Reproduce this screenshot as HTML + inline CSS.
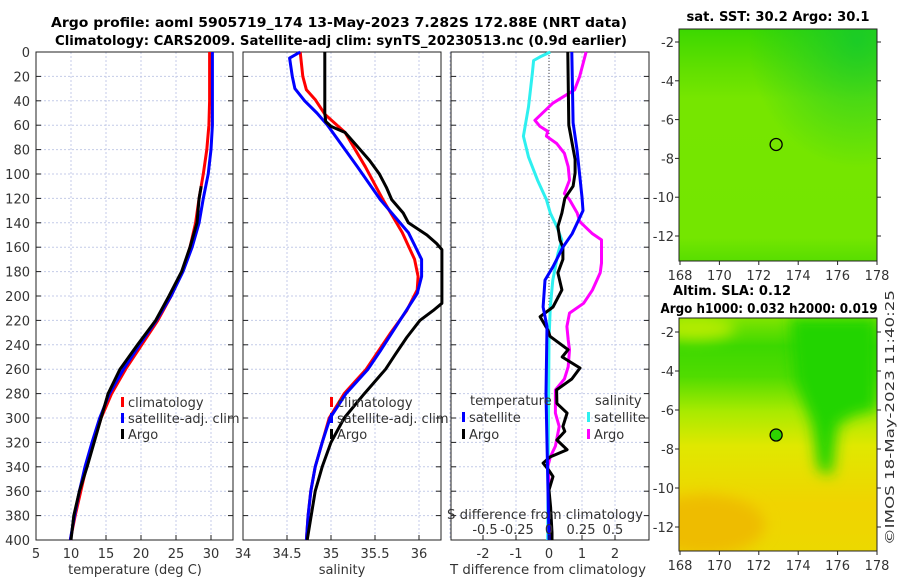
<!DOCTYPE html>
<html><head><meta charset="utf-8"><style>
body{margin:0;background:#fff;width:900px;height:580px;overflow:hidden}
svg{font-family:"DejaVu Sans","Liberation Sans",sans-serif}
</style></head><body>
<svg id="c" width="900" height="580" xmlns="http://www.w3.org/2000/svg">
<defs>
<linearGradient id="g1" x1="0" y1="0" x2="0" y2="1">
<stop offset="0" stop-color="#3cd800"/><stop offset="0.18" stop-color="#62e000"/><stop offset="0.3" stop-color="#76e600"/><stop offset="0.9" stop-color="#74e600"/><stop offset="1" stop-color="#58de00"/></linearGradient>
<radialGradient id="g1b" cx="0.9" cy="0.05" r="0.55"><stop offset="0" stop-color="#10c830" stop-opacity="0.8"/><stop offset="1" stop-color="#10c830" stop-opacity="0"/></radialGradient>
<linearGradient id="g2" x1="0" y1="0" x2="0" y2="1">
<stop offset="0" stop-color="#80e400"/><stop offset="0.12" stop-color="#3cd800"/><stop offset="0.25" stop-color="#50dc00"/><stop offset="0.4" stop-color="#a8ea00"/><stop offset="0.55" stop-color="#e0e800"/><stop offset="0.8" stop-color="#f0d400"/><stop offset="1" stop-color="#ecd800"/></linearGradient>
<filter id="bl"><feGaussianBlur stdDeviation="7"/></filter>
<clipPath id="cp2"><rect x="679" y="318" width="198" height="233"/></clipPath>
</defs>
<g id="titles" font-weight="bold" font-size="13" text-anchor="middle">
<text x="339" y="27" textLength="576" lengthAdjust="spacingAndGlyphs">Argo profile: aoml 5905719_174 13-May-2023 7.282S 172.88E (NRT data)</text>
<text x="341" y="45" textLength="572" lengthAdjust="spacingAndGlyphs">Climatology: CARS2009. Satellite-adj clim: synTS_20230513.nc (0.9d earlier)</text>
<text x="778" y="21" textLength="183" lengthAdjust="spacingAndGlyphs">sat. SST: 30.2 Argo: 30.1</text>
<text x="732" y="295" textLength="118" lengthAdjust="spacingAndGlyphs">Altim. SLA: 0.12</text>
<text x="769" y="313" textLength="217" lengthAdjust="spacingAndGlyphs">Argo h1000: 0.032 h2000: 0.019</text>
</g>
<text x="894" y="545" font-size="12" fill="#333" textLength="255" lengthAdjust="spacingAndGlyphs" transform="rotate(-90 894 545)">©IMOS 18-May-2023 11:40:25</text>
<g id="maps">
<rect x="679" y="29" width="198" height="232" fill="url(#g1)"/>
<rect x="679" y="29" width="198" height="232" fill="url(#g1b)"/>
<rect x="679" y="318" width="198" height="233" fill="url(#g2)"/>
<g clip-path="url(#cp2)" filter="url(#bl)">
<path d="M790 318 L877 318 L877 410 L855 415 L838 425 L832 475 L818 470 L812 425 L795 380 Z" fill="#22d400"/>
<ellipse cx="705" cy="525" rx="60" ry="30" fill="#eebc00"/>
<ellipse cx="695" cy="328" rx="40" ry="12" fill="#b4ec00"/>
</g>
</g>
<g id="plots"></g>
</svg>
<script>
// ---- data ----
const tDepth=[0,20,40,60,80,100,120,140,160,180,200,220,240,260,280,300,320,340,360,380,400];
const tClim=[29.8,29.8,29.8,29.7,29.4,28.9,28.3,27.8,27.0,25.9,24.3,22.4,20.1,17.8,15.8,14.3,13.2,12.2,11.4,10.6,9.9];
const tSat=[30.2,30.2,30.2,30.2,30.0,29.6,28.9,28.3,27.3,26.0,24.3,22.2,19.8,17.5,15.5,14.1,13.0,12.0,11.2,10.5,9.9];
const tArgoDepth=[110,120,140,160,180,200,220,240,260,280,300,320,340,360,380,400];
const tArgo=[28.6,28.3,28.0,27.0,25.8,24.0,22.1,19.5,17.0,15.3,14.3,13.3,12.3,11.2,10.4,10.0];
const sClimDepth=[0,20,31,39,51,66,94,121,148,170,184,195,212,231,245,260,280,300,320,340,360,380,400];
const sClim=[34.65,34.68,34.72,34.82,34.93,35.16,35.39,35.59,35.81,35.95,35.99,35.98,35.86,35.67,35.54,35.4,35.15,34.98,34.9,34.82,34.77,34.74,34.72];
const sSatDepth=[0,5,20,30,40,50,60,94,121,148,170,184,198,217,245,260,280,300,320,340,360,380,400];
const sSat=[34.65,34.53,34.56,34.59,34.7,34.84,34.96,35.3,35.56,35.88,36.03,36.03,35.98,35.81,35.56,35.42,35.17,34.99,34.9,34.82,34.77,34.74,34.72];
const sArgoDepth=[0,50,57,61,66,75,89,100,111,121,132,140,150,157,162,206,212,220,234,248,260,280,300,320,340,360,400];
const sArgo=[34.93,34.93,34.94,35.0,35.16,35.27,35.44,35.55,35.63,35.69,35.82,35.88,36.09,36.2,36.26,36.26,36.16,36.01,35.86,35.73,35.62,35.38,35.15,35.0,34.9,34.82,34.73];
const dTSatDepth=[0,58,80,119,130,149,160,176,187,209,225,280,400];
const dTSat=[0.69,0.73,0.85,1.0,1.03,0.7,0.42,0.12,-0.12,-0.18,-0.06,-0.09,0.0];
const dTArgoDepth=[0,60,88,99,110,120,132,143,154,160,170,181,195,209,217,228,233,244,250,259,268,277,288,296,307,311,318,326,332,337,343,348,359,373,394,400];
const dTArgo=[0.57,0.6,0.79,0.79,0.73,0.48,0.39,0.27,0.33,0.42,0.42,0.27,0.39,0.12,-0.27,-0.03,0.03,0.58,0.4,0.94,0.69,0.23,0.24,0.55,0.42,0.48,0.24,0.55,0.03,-0.18,0.0,0.12,0.0,0.05,0.09,0.09];
const dSSatDepth=[0,4,7,17,45,69,86,105,121,132,143,154,165,176,187,209,236,400];
const dSSat=[0.01,-0.07,-0.12,-0.13,-0.16,-0.2,-0.16,-0.09,-0.02,0.01,0.06,0.1,0.07,0.05,0.03,0.01,0.0,-0.01];
const dSArgoDepth=[0,20,31,42,56,61,65,69,75,83,94,105,116,121,132,139,149,154,165,173,181,195,206,214,225,236,244,258,268,277,288,296,307,323,332,340,351,378,400];
const dSArgo=[0.29,0.24,0.2,0.03,-0.11,-0.07,-0.01,-0.02,0.06,0.12,0.15,0.16,0.12,0.16,0.22,0.24,0.34,0.41,0.41,0.41,0.4,0.34,0.27,0.16,0.14,0.15,0.16,0.15,0.12,0.05,0.05,0.05,0.08,0.05,0.01,-0.01,0.0,0.0,0.0];
const depthTicks=[0,20,40,60,80,100,120,140,160,180,200,220,240,260,280,300,320,340,360,380,400];
const tTicks=[5,10,15,20,25,30];
const sTicks=[34,34.5,35,35.5,36];
const dTTicks=[-2,-1,0,1,2];
const dSTicks=[-0.5,-0.25,0,0.25,0.5];
const dSTickLabels=["-0.5","-0.25","0","0.25","0.5"];
const lonTicks=[168,170,172,174,176,178];
const latTicks1=[-2,-4,-6,-8,-10,-12];
const argoLon=172.88, argoLat=-7.282;
// ---- drawing ----
const NS='http://www.w3.org/2000/svg';
const root=document.getElementById('plots');
function el(tag,attrs,parent){const e=document.createElementNS(NS,tag);for(const k in attrs)e.setAttribute(k,attrs[k]);(parent||root).appendChild(e);return e;}
const Y0=52,Y1=540;
const yD=d=>Y0+(d/400)*(Y1-Y0);
function lin(d0,d1,r0,r1){return v=>r0+(v-d0)/(d1-d0)*(r1-r0);}
const xT=lin(5,30,36,211), xS=lin(34,36,243,419), xDT=lin(0,1,549,582), xDS=lin(0,0.5,549,613);
function frame(x0,x1,xs,xticks,name){
  const g=el('g',{});
  
  
  xticks.forEach(t=>{el('line',{x1:xs(t),x2:xs(t),y1:Y0,y2:Y1,stroke:'#c4cbe8','stroke-width':1,'stroke-dasharray':'2,2'},g);});
  depthTicks.forEach(d=>{el('line',{x1:x0,x2:x1,y1:yD(d),y2:yD(d),stroke:'#c4cbe8','stroke-width':1,'stroke-dasharray':'2,2'},g);
    el('line',{x1:x0,x2:x0+5,y1:yD(d),y2:yD(d),stroke:'#222'},g);el('line',{x1:x1-5,x2:x1,y1:yD(d),y2:yD(d),stroke:'#222'},g);});
  el('rect',{x:x0,y:Y0,width:x1-x0,height:Y1-Y0,fill:'none',stroke:'#222','stroke-width':1},g);
  return g;
}
function line(xs,depths,vals,color,name,w){
  const p=el('polyline',{points:depths.map((d,i)=>xs(vals[i]).toFixed(1)+','+yD(d).toFixed(1)).join(' '),fill:'none',stroke:color,'stroke-width':w||3,'stroke-linejoin':'round'});
  
  
}
function txt(x,y,s,opts,name){const t=el('text',Object.assign({x:x,y:y,'font-size':13,fill:'#333'},opts||{}));t.textContent=s;return t;}
// panel 1
frame(36,233,xT,tTicks,'temperature-panel');
depthTicks.forEach(d=>txt(30,yD(d)+5,String(d),{'text-anchor':'end'},'depth-tick-label'));
tTicks.forEach(t=>{el('line',{x1:xT(t),x2:xT(t),y1:Y1-5,y2:Y1,stroke:'#222'});txt(xT(t),558,String(t),{'text-anchor':'middle'},'temp-tick-label');});
line(xT,tDepth,tClim,'#f00','temp-climatology-line');
line(xT,tDepth,tSat,'#00f','temp-satellite-line');
line(xT,tArgoDepth,tArgo,'#000','temp-argo-line');
txt(135,574,'temperature (deg C)',{'text-anchor':'middle'},'temp-x-axis-title');
// panel 2
frame(243,441,xS,sTicks,'salinity-panel');
sTicks.forEach(t=>{el('line',{x1:xS(t),x2:xS(t),y1:Y1-5,y2:Y1,stroke:'#222'});txt(xS(t),558,String(t),{'text-anchor':'middle'},'sal-tick-label');});
line(xS,sClimDepth,sClim,'#f00','sal-climatology-line');
line(xS,sSatDepth,sSat,'#00f','sal-satellite-line');
line(xS,sArgoDepth,sArgo,'#000','sal-argo-line');
txt(342,574,'salinity',{'text-anchor':'middle'},'sal-x-axis-title');
// panel 3
frame(451,649,xDT,[-3,-2,-1,0,1,2],'difference-panel');
el('line',{x1:xDT(0),x2:xDT(0),y1:Y0,y2:Y1,stroke:'#444','stroke-dasharray':'1,2'});
line(xDS,dSSatDepth,dSSat,'#2ef0f0','sal-diff-satellite-line');
line(xDS,dSArgoDepth,dSArgo,'#f0f','sal-diff-argo-line');
line(xDT,dTArgoDepth,dTArgo,'#000','temp-diff-argo-line');
line(xDT,dTSatDepth,dTSat,'#00f','temp-diff-satellite-line');
dTTicks.forEach(t=>{el('line',{x1:xDT(t),x2:xDT(t),y1:Y1-5,y2:Y1,stroke:'#222'});txt(xDT(t),558,String(t),{'text-anchor':'middle'},'tdiff-tick-label');});
dSTicks.forEach((t,i)=>txt(xDS(t),534,dSTickLabels[i],{'text-anchor':'middle'},'sdiff-tick-label'));
txt(545,519,'S difference from climatology',{'text-anchor':'middle',textLength:196,lengthAdjust:'spacingAndGlyphs'},'sdiff-axis-title');
txt(548,574,'T difference from climatology',{'text-anchor':'middle',textLength:196,lengthAdjust:'spacingAndGlyphs'},'tdiff-axis-title');
// legends
function leg(x,y,color,label,name){el('rect',{x:x,y:y-10,width:3,height:10,fill:color});txt(x+7,y,label,{},name);}
[['#f00','climatology'],['#00f','satellite-adj. clim'],['#000','Argo']].forEach((a,i)=>leg(121,407+i*16,a[0],a[1],'temp-legend-entry'));
[['#f00','climatology'],['#00f','satellite-adj. clim'],['#000','Argo']].forEach((a,i)=>leg(330,407+i*16,a[0],a[1],'sal-legend-entry'));
txt(470,405,'temperature',{},'diff-legend-temp-header');txt(595,405,'salinity',{},'diff-legend-sal-header');
leg(462,422,'#00f','satellite','diff-legend-entry');leg(462,439,'#000','Argo','diff-legend-entry');
leg(587,422,'#2ef0f0','satellite','diff-legend-entry');leg(587,439,'#f0f','Argo','diff-legend-entry');
// maps
const xL=lin(168,178,680,877);
function mapAxes(yTop,yBot,yl,name){
  const g=el('g',{});
  
  
  el('rect',{x:679,y:yTop,width:198,height:yBot-yTop,fill:'none',stroke:'#222'},g);
  lonTicks.forEach(t=>{el('line',{x1:xL(t),x2:xL(t),y1:yBot,y2:yBot+4,stroke:'#222'},g);txt(xL(t),yBot+19,String(t),{'text-anchor':'middle'},'lon-tick-label');});
  latTicks1.forEach(t=>{el('line',{x1:877,x2:881,y1:yl(t),y2:yl(t),stroke:'#222'},g);el('line',{x1:675,x2:679,y1:yl(t),y2:yl(t),stroke:'#222'},g);txt(674,yl(t)+5,String(t),{'text-anchor':'end'},'lat-tick-label');});
  const c=el('circle',{cx:xL(argoLon),cy:yl(argoLat),r:6,fill:'none',stroke:'#000','stroke-width':1.3},g);
  
  
  return c;
}
mapAxes(29,261,lin(-2,-12,42,236),'sst-map-axes');
const c2=mapAxes(318,551,lin(-2,-12,332,527),'sla-map-axes');c2.setAttribute('fill','#2ed400');
</script>
</body></html>
